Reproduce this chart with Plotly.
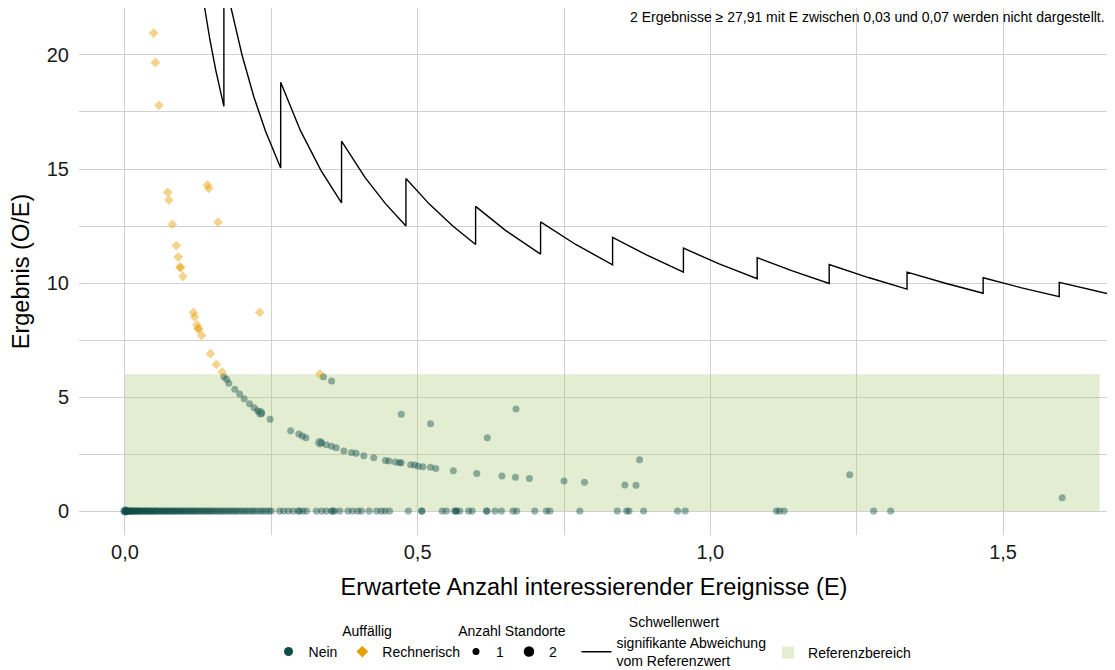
import plotly.graph_objects as go

# ---------------- data ----------------
# Rechnerisch auffällig (orange diamonds): E and O/E
rech_E = [0.049, 0.052, 0.058, 0.073, 0.075, 0.081, 0.0876, 0.091, 0.094, 0.095,
          0.099, 0.117, 0.119, 0.123, 0.125, 0.126, 0.131, 0.141, 0.143, 0.146,
          0.156, 0.159, 0.166, 0.230, 0.333]
rech_oe = [20.96, 19.67, 17.79, 13.98, 13.64, 12.57, 11.64, 11.14, 10.70, 10.68,
           10.29, 8.71, 8.52, 8.16, 8.01, 7.98, 7.70, 14.30, 14.15, 6.90,
           6.43, 12.66, 6.10, 8.71, 6.01]

# Nicht auffällig (dark green circles) with result > 0, one site
nein_E = [0.169, 0.1735, 0.1775, 0.1877, 0.196, 0.2036, 0.2128, 0.2207, 0.2264, 0.233,
          0.248, 0.283, 0.297, 0.303, 0.309, 0.335, 0.344, 0.353, 0.361, 0.374,
          0.387, 0.395, 0.408, 0.425, 0.445, 0.451, 0.462, 0.469, 0.472, 0.488,
          0.495, 0.501, 0.509, 0.522, 0.531, 0.561, 0.601, 0.644, 0.667, 0.691,
          0.750, 0.785, 0.854, 0.873, 1.601,
          0.339, 0.353, 0.472, 0.522, 0.619, 0.879, 1.238, 0.668]
nein_oe = [5.89, 5.78, 5.60, 5.34, 5.13, 4.93, 4.71, 4.53, 4.40, 4.29,
           4.03, 3.52, 3.38, 3.29, 3.22, 2.99, 2.91, 2.84, 2.78, 2.63,
           2.57, 2.53, 2.43, 2.34, 2.22, 2.19, 2.15, 2.12, 2.12, 2.03,
           2.02, 1.97, 1.94, 1.92, 1.87, 1.77, 1.65, 1.54, 1.48, 1.43,
           1.32, 1.26, 1.14, 1.13, 0.58,
           5.89, 5.70, 4.25, 3.83, 3.22, 2.25, 1.59, 4.47]

# Nicht auffällig with result 0 (one site): E values
nein_zero_E = [0.000, 0.000, 0.001, 0.001, 0.002, 0.003, 0.003, 0.004, 0.005, 0.006,
               0.007, 0.008, 0.009, 0.011, 0.012, 0.013, 0.015, 0.016, 0.018, 0.019,
               0.020, 0.022, 0.024, 0.025, 0.027, 0.029, 0.031, 0.033, 0.035, 0.036,
               0.038, 0.040, 0.042, 0.044, 0.046, 0.048, 0.050, 0.052, 0.054, 0.056,
               0.058, 0.061, 0.063, 0.065, 0.067, 0.069, 0.072, 0.074, 0.076, 0.078,
               0.081, 0.083, 0.085, 0.088, 0.090, 0.093, 0.095, 0.098, 0.100, 0.103,
               0.105, 0.108, 0.111, 0.113, 0.116, 0.119, 0.121, 0.124, 0.127, 0.130,
               0.133, 0.136, 0.139, 0.142, 0.145, 0.148, 0.151, 0.154, 0.158, 0.161,
               0.164, 0.168, 0.171, 0.175, 0.178, 0.182, 0.186, 0.189, 0.193, 0.197,
               0.201, 0.205, 0.209, 0.214, 0.218, 0.222, 0.227, 0.232, 0.236, 0.241,
               0.246, 0.250, 0.264, 0.271, 0.279, 0.287, 0.296, 0.298, 0.304, 0.310,
               0.327, 0.336, 0.344, 0.353, 0.355, 0.358, 0.367, 0.381, 0.389, 0.398,
               0.404, 0.417, 0.430, 0.438, 0.444, 0.452, 0.484, 0.507, 0.507, 0.542,
               0.549, 0.563, 0.566, 0.566, 0.572, 0.587, 0.593, 0.618, 0.618, 0.632,
               0.643, 0.663, 0.669, 0.700, 0.720, 0.726, 0.777, 0.841, 0.857, 0.861,
               0.886, 0.944, 0.957, 1.113, 1.118, 1.126, 1.279, 1.308]

# Nicht auffällig, two sites
nein2_E = [0.000, 0.2315, 0.333]
nein2_oe = [0.00, 4.31, 3.00]

# Threshold line "signifikante Abweichung vom Referenzwert" (vertices)
thr_E = [0.133, 0.145, 0.155, 0.169, 0.169, 0.182, 0.200, 0.220, 0.240, 0.266,
         0.266, 0.300, 0.335, 0.370, 0.370, 0.410, 0.445, 0.480, 0.480, 0.520,
         0.560, 0.599, 0.599, 0.650, 0.710, 0.710, 0.770, 0.833, 0.833, 0.890,
         0.954, 0.954, 1.015, 1.080, 1.080, 1.140, 1.203, 1.203, 1.270, 1.336,
         1.336, 1.400, 1.466, 1.466, 1.530, 1.596, 1.596, 1.650, 1.700]
thr_oe = [22.56, 20.69, 19.35, 17.75, 23.67, 21.98, 20.00, 18.18, 16.67, 15.04,
          18.80, 16.67, 14.93, 13.51, 16.22, 14.63, 13.48, 12.50, 14.58, 13.46,
          12.50, 11.69, 13.36, 12.31, 11.27, 12.68, 11.69, 10.80, 12.00, 11.24,
          10.48, 11.53, 10.84, 10.19, 11.11, 10.53, 9.98, 10.81, 10.24, 9.73,
          10.48, 10.00, 9.55, 10.23, 9.80, 9.40, 10.03, 9.70, 9.41]

# Referenzbereich
ref_E_range = [0.0, 1.665]
ref_oe_range = [0.0, 6.0]

x_ticks = [0.0, 0.5, 1.0, 1.5]
x_tick_labels = ["0,0", "0,5", "1,0", "1,5"]
y_ticks = [0, 5, 10, 15, 20]
y_tick_labels = ["0", "5", "10", "15", "20"]
note_text = "2 Ergebnisse ≥ 27,91 mit E zwischen 0,03 und 0,07 werden nicht dargestellt."

# ---------------- styling ----------------
GREEN = "#0e4d48"
ORANGE = "#E69F00"
GRID = "#d0d0d0"
FONT = "Liberation Sans, Arial, Helvetica, sans-serif"

fig = go.Figure()

# threshold line
fig.add_trace(go.Scatter(x=thr_E, y=thr_oe, mode="lines",
                         line=dict(color="black", width=1.4),
                         name="signifikante Abweichung<br>vom Referenzwert",
                         legend="legend3", hoverinfo="skip"))

# data points
fig.add_trace(go.Scatter(x=nein_zero_E, y=[0.0] * len(nein_zero_E), mode="markers",
                         marker=dict(color=GREEN, size=7.2, opacity=0.42, line=dict(width=0)),
                         showlegend=False))
fig.add_trace(go.Scatter(x=nein_E, y=nein_oe, mode="markers",
                         marker=dict(color=GREEN, size=7, opacity=0.42, line=dict(width=0)),
                         showlegend=False))
fig.add_trace(go.Scatter(x=nein2_E, y=nein2_oe, mode="markers",
                         marker=dict(color=GREEN, size=9.5, opacity=0.42, line=dict(width=0)),
                         showlegend=False))
fig.add_trace(go.Scatter(x=rech_E, y=rech_oe, mode="markers",
                         marker=dict(color=ORANGE, size=7.5, symbol="diamond", opacity=0.45,
                                     line=dict(width=0)),
                         showlegend=False))

# legend entries
fig.add_trace(go.Scatter(x=[None], y=[None], mode="markers", name="Nein",
                         marker=dict(color=GREEN, size=9), legend="legend"))
fig.add_trace(go.Scatter(x=[None], y=[None], mode="markers", name="Rechnerisch",
                         marker=dict(color=ORANGE, size=9, symbol="diamond"), legend="legend"))
fig.add_trace(go.Scatter(x=[None], y=[None], mode="markers", name="1",
                         marker=dict(color="black", size=7), legend="legend2"))
fig.add_trace(go.Scatter(x=[None], y=[None], mode="markers", name="2",
                         marker=dict(color="black", size=10.5), legend="legend2"))

# reference area (also shown in its own legend)
fig.add_shape(type="rect", xref="x", yref="y",
              x0=ref_E_range[0], x1=ref_E_range[1], y0=ref_oe_range[0], y1=ref_oe_range[1],
              fillcolor="rgba(167,200,118,0.33)", line=dict(width=0), layer="between",
              showlegend=True, legend="legend4", name="Referenzbereich")

fig.add_annotation(text=note_text, xref="paper", yref="paper", x=0.998, y=0.983,
                   xanchor="right", yanchor="middle", showarrow=False,
                   font=dict(size=14, color="black"))

leg_common = dict(orientation="h", yanchor="top", xanchor="left",
                  bgcolor="rgba(0,0,0,0)", font=dict(size=14, color="black"),
                  itemclick=False, itemdoubleclick=False, tracegroupgap=0)

# the page body adds an 8px offset, so the figure is 8px smaller than the window
fig.update_layout(
    width=1107, height=662,
    margin=dict(l=71, r=6, t=0, b=135, autoexpand=False),
    paper_bgcolor="white", plot_bgcolor="white",
    font=dict(family=FONT, color="black"),
    xaxis=dict(range=[-0.0785, 1.681], tickmode="array", tickvals=x_ticks,
               ticktext=x_tick_labels, showgrid=True, gridcolor=GRID, gridwidth=1,
               minor=dict(dtick=0.25, tick0=0, showgrid=True, gridcolor=GRID, gridwidth=1),
               zeroline=False, showline=False, ticks="", ticklabelstandoff=3,
               automargin=False,
               tickfont=dict(size=20, color="#1a1a1a"),
               title=dict(text="Erwartete Anzahl interessierender Ereignisse (E)",
                          font=dict(size=23.5), standoff=16)),
    yaxis=dict(range=[-1.05, 22.06], tickmode="array", tickvals=y_ticks,
               ticktext=y_tick_labels, showgrid=True, gridcolor=GRID, gridwidth=1,
               minor=dict(dtick=2.5, tick0=0, showgrid=True, gridcolor=GRID, gridwidth=1),
               zeroline=False, showline=False, ticks="", ticklabelstandoff=9,
               automargin=False,
               tickfont=dict(size=20, color="#1a1a1a"),
               title=dict(text="Ergebnis (O/E)", font=dict(size=23.5), standoff=14)),
    legend=dict(**leg_common, x=0.184, y=-0.157,
                title=dict(text="Auffällig", side="top center", font=dict(size=14))),
    legend2=dict(**leg_common, x=0.366, y=-0.157,
                 title=dict(text="Anzahl Standorte", side="top center", font=dict(size=14))),
    legend3=dict(**leg_common, x=0.483, y=-0.140,
                 title=dict(text="Schwellenwert", side="top center", font=dict(size=14))),
    legend4=dict(**leg_common, x=0.669, y=-0.194),
)

fig.write_html("out.html")
